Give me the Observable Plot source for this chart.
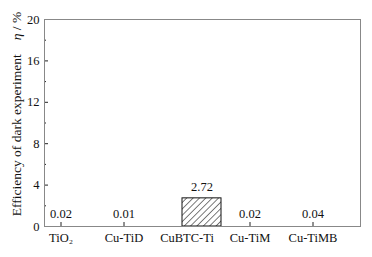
<!DOCTYPE html>
<html><head><meta charset="utf-8">
<script src="https://cdn.jsdelivr.net/npm/d3@7"></script>
<script src="https://cdn.jsdelivr.net/npm/@observablehq/plot@0.6"></script>
<style>body{margin:0;background:#fff;} svg{display:block;}</style>
</head><body><div id="chart"></div>
<script>
const categories = ["TiO2", "Cu-TiD", "CuBTC-Ti", "Cu-TiM", "Cu-TiMB"];
const values = [0.02, 0.01, 2.72, 0.02, 0.04];
const labels = ["0.02", "0.01", "2.72", "0.02", "0.04"];
const tickLabels = {"TiO2": "TiO₂", "Cu-TiD": "Cu-TiD", "CuBTC-Ti": "CuBTC-Ti", "Cu-TiM": "Cu-TiM", "Cu-TiMB": "Cu-TiMB"};
const majorTicks = [0, 4, 8, 12, 16, 20];
const minorTicks = [2, 6, 10, 14, 18];

const data = categories.map((c, i) => ({cat: c, v: values[i], label: labels[i]}));
const font = "'Liberation Serif', 'Times New Roman', serif";

const chart = Plot.plot({
  width: 372, height: 257,
  marginLeft: 44, marginRight: 12, marginTop: 19, marginBottom: 31,
  style: {fontFamily: font, fontSize: "12.5px", color: "#111", background: "#fff"},
  x: {domain: categories, range: [29.5, 344.5], paddingInner: 0.38, paddingOuter: 0.19},
  y: {domain: [0, 20]},
  marks: [
    Plot.tickX(categories, {x: d => d, stroke: "#222", insetTop: 203}),
    Plot.barY(data.filter(d => d.v >= 0.5), {x: "cat", y: "v", fill: "url(#hatch)", stroke: "#111", strokeWidth: 1, dx: 15}),
    Plot.text(data.filter(d => d.v < 0.5), {x: "cat", y: "v", text: "label", dy: -12, fill: "#111", fontSize: 12.5, fontFamily: font}),
    Plot.text(data.filter(d => d.v >= 0.5), {x: "cat", y: "v", text: "label", dy: -11, dx: 15, fill: "#111", fontSize: 12.5, fontFamily: font}),
    Plot.axisY(majorTicks, {tickSize: 4, tickFormat: () => "", dx: 4, stroke: "#222", label: null}),
    Plot.axisY(minorTicks, {tickSize: 2, tickFormat: () => "", dx: 2, stroke: "#222", label: null}),
    Plot.axisY(majorTicks, {tickSize: 0, tickPadding: 5, label: null, fontSize: 12.5}),
    Plot.axisX({tickSize: 0, tickPadding: 7, label: null, tickFormat: d => tickLabels[d], fontSize: 12.5}),
    Plot.frame({stroke: "#888", strokeWidth: 1})
  ]
});

const svg = d3.select(chart);
const defs = svg.insert("defs", ":first-child");
const pat = defs.append("pattern").attr("id", "hatch").attr("patternUnits", "userSpaceOnUse")
  .attr("width", 4.5).attr("height", 4.5).attr("patternTransform", "rotate(45)");
pat.append("rect").attr("width", 4.5).attr("height", 4.5).attr("fill", "#fff");
pat.append("line").attr("x1", 0).attr("y1", 0).attr("x2", 0).attr("y2", 4.5).attr("stroke", "#111").attr("stroke-width", 1.1);

const t = svg.append("text")
  .attr("transform", "translate(18,114) rotate(-90)")
  .attr("text-anchor", "middle").attr("dominant-baseline", "middle")
  .attr("font-family", font).attr("font-size", 13.5).attr("fill", "#111");
t.append("tspan").text("Efficiency of dark experiment");
t.append("tspan").attr("dx", 14).attr("font-style", "italic").text("η");
t.append("tspan").text(" / %");

document.getElementById("chart").appendChild(chart);
</script></body></html>
